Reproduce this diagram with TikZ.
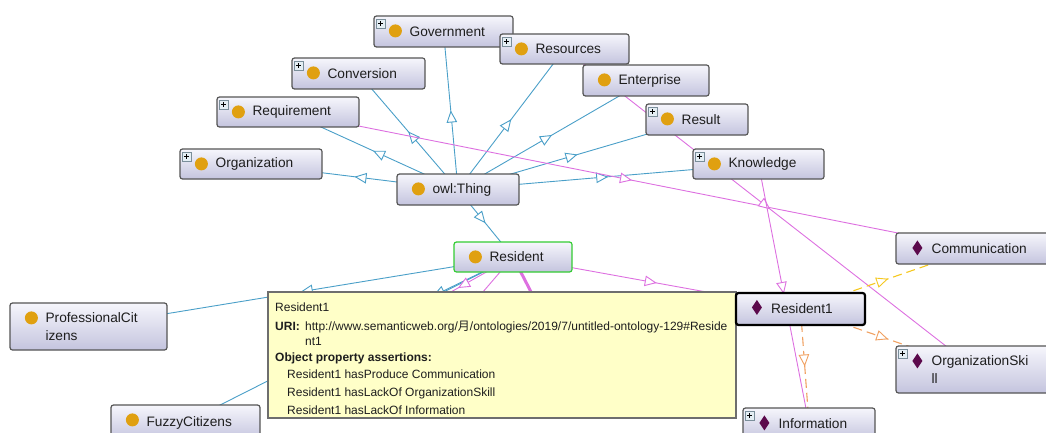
\documentclass[tikz,border=0pt]{standalone}
\usepackage{fontspec}
\setmainfont{Liberation Sans}
\newfontfamily\cjk{Noto Sans CJK SC}
\usetikzlibrary{fit,backgrounds,arrows.meta,decorations.markings}
\definecolor{bluec}{HTML}{4A9FC8}
\definecolor{pinkc}{HTML}{DD70E0}
\definecolor{yelc}{HTML}{F5C820}
\definecolor{orac}{HTML}{F0A060}
\definecolor{boxtop}{HTML}{F6F6FC}
\definecolor{boxbot}{HTML}{C4C4DE}
\definecolor{boxdraw}{HTML}{555555}
\definecolor{dotc}{HTML}{E0A010}
\definecolor{diac}{HTML}{5C0A4C}
\definecolor{plusfill}{HTML}{E4EEF4}
\definecolor{plusdraw}{HTML}{7A8E9A}
\definecolor{tipfill}{HTML}{FFFFC8}
\definecolor{tipdraw}{HTML}{6E6E6E}
\definecolor{greenc}{HTML}{33CC33}
\definecolor{txtc}{HTML}{1E1E1E}
\tikzset{
  obox/.style={draw=boxdraw, line width=1.2pt, rounded corners=2.5pt,
    top color=boxtop, bottom color=boxbot, inner sep=0pt},
  lbl/.style={inner sep=0pt, text=txtc, align=left,
    font=\fontsize{13.7pt}{18pt}\selectfont},
  tlbl/.style={inner sep=0pt, text=txtc, anchor=base west,
    font=\fontsize{12pt}{14pt}\selectfont},
  midtri/.style={postaction={decorate}, decoration={markings,
    mark=at position 0.5 with {\arrow{Triangle[length=12pt,width=10.5pt,color=#1,fill=white,line width=0.9pt]}}}},
  isa/.style={draw=bluec, line width=0.9pt, midtri=bluec},
  prop/.style={draw=pinkc, line width=0.9pt, midtri=pinkc},
  yeldash/.style={draw=yelc, line width=1.1pt, dash pattern=on 9pt off 5pt, midtri=yelc},
  oradash/.style={draw=orac, line width=1.1pt, dash pattern=on 9pt off 5pt, midtri=orac},
}
\newcommand\onode[7]{%
  \node[obox, #6, fit={(#2,#3)(#4,#5)}] (#1) {};
  \node[lbl, anchor=west] (#1-t) at ([xshift=36pt]#1.west) {#7};
}
\newcommand\dotic[1]{\fill[dotc] ([xshift=22pt,yshift=-15.5pt]#1.north west) circle[radius=6.5pt];}
\newcommand\diaic[1]{\fill[diac, shift={([xshift=22pt,yshift=-15.5pt]#1.north west)}]
  (0pt,7.5pt) -- (5pt,0pt) -- (0pt,-7.5pt) -- (-5pt,0pt) -- cycle;}
\newcommand\plusic[1]{%
  \begin{scope}[shift={([xshift=3pt,yshift=-4pt]#1.north west)}]
    \draw[fill=plusfill, draw=plusdraw, line width=0.6pt] (0pt,0pt) rectangle (9pt,-9pt);
    \draw[black, line width=0.9pt] (2pt,-4.5pt) -- (7pt,-4.5pt) (4.5pt,-2pt) -- (4.5pt,-7pt);
  \end{scope}}
\begin{document}
\begin{tikzpicture}[x=1pt,y=-1pt]
\useasboundingbox (0,0) rectangle (1046,433);
\clip (0,0) rectangle (1046,433);
% class and individual nodes
\onode{gov}{374}{16}{513}{47}{}{Government}
\onode{resrc}{500}{34}{629}{64}{}{Resources}
\onode{conv}{292}{58}{425}{89}{}{Conversion}
\onode{ent}{583}{65}{709}{96}{}{Enterprise}
\onode{req}{217}{97}{359}{127}{}{Requirement}
\onode{result}{646}{104}{748}{135}{}{Result}
\onode{org}{180}{149}{322}{179}{}{Organization}
\onode{know}{693}{149}{824}{179}{}{Knowledge}
\onode{thing}{397}{174}{519}{205}{}{owl:Thing}
\onode{resident}{454}{242}{572}{272}{draw=greenc}{Resident}
\onode{comm}{896}{233}{1056}{264}{}{Communication}
\onode{orgskill}{896}{346}{1056}{393}{}{OrganizationSki\\ll}
\onode{info}{743}{408}{875}{440}{}{Information}
\onode{prof}{10}{303}{167}{350}{}{ProfessionalCit\\izens}
\onode{fuzzy}{111}{405}{260}{440}{}{FuzzyCitizens}
\foreach \n in {gov,resrc,conv,ent,req,result,org,know,thing,resident,prof,fuzzy} {\dotic{\n}}
\foreach \n in {comm,orgskill,info} {\diaic{\n}}
\foreach \n in {gov,resrc,conv,req,result,org,know,orgskill,info} {\plusic{\n}}
% tooltip
\node[draw=tipdraw, fill=tipfill, line width=1.6pt, inner sep=0pt, fit={(268,292)(736,418)}] (tip) {};
\node[tlbl] (t1) at (275,311) {Resident1};
\node[tlbl] (t2) at (275,330) {\textbf{URI:}};
\node[tlbl] (t3) at (305,330) {http://www.semanticweb.org/{\cjk 月}/ontologies/2019/7/untitled-ontology-129\#Reside};
\node[tlbl] (t4) at (305,345) {nt1};
\node[tlbl] (t5) at (275,361) {\textbf{Object property assertions:}};
\node[tlbl] (t6) at (287,378) {Resident1 hasProduce Communication};
\node[tlbl] (t7) at (287,396) {Resident1 hasLackOf OrganizationSkill};
\node[tlbl] (t8) at (287,414) {Resident1 hasLackOf Information};
% selected individual
\onode{resident1}{736}{293}{865}{325}{draw=black, line width=2.2pt}{Resident1}
\diaic{resident1}
% hidden end points behind the tooltip
\coordinate (h1) at (353,335);
\coordinate (h2) at (403,319);
\coordinate (h3) at (433,350);
\coordinate (h4) at (561,350);
\begin{pgfonlayer}{background}
\draw[isa] (thing.center) -- (gov.center);
\draw[isa] (thing.center) -- (resrc.center);
\draw[isa] (thing.center) -- (conv.center);
\draw[isa] (thing.center) -- (ent.center);
\draw[isa] (thing.center) -- (req.center);
\draw[isa] (thing.center) -- (result.center);
\draw[isa] (thing.center) -- (org.center);
\draw[isa] (thing.center) -- (know.center);
\draw[isa] (thing.center) -- (resident.center);
\draw[isa] (resident.center) -- (prof.center);
\draw[isa] (resident.center) -- (fuzzy.center);
\draw[isa] (resident.center) -- (h1);
\draw[prop] (resident.center) -- (h2);
\draw[prop] (resident.center) -- (h3);
\draw[draw=pinkc, line width=3pt] (resident.center) -- (h4);
\draw[prop] (req.center) -- (comm.center);
\draw[prop] (resrc.center) -- (orgskill.center);
\draw[prop] (know.center) -- (info.center);
\draw[prop] (resident.center) -- (resident1.center);
\draw[yeldash] (resident1.center) -- (comm.center);
\draw[oradash] (resident1.center) -- (orgskill.center);
\draw[oradash] (resident1.center) -- (info.center);
\end{pgfonlayer}
\end{tikzpicture}
\end{document}
